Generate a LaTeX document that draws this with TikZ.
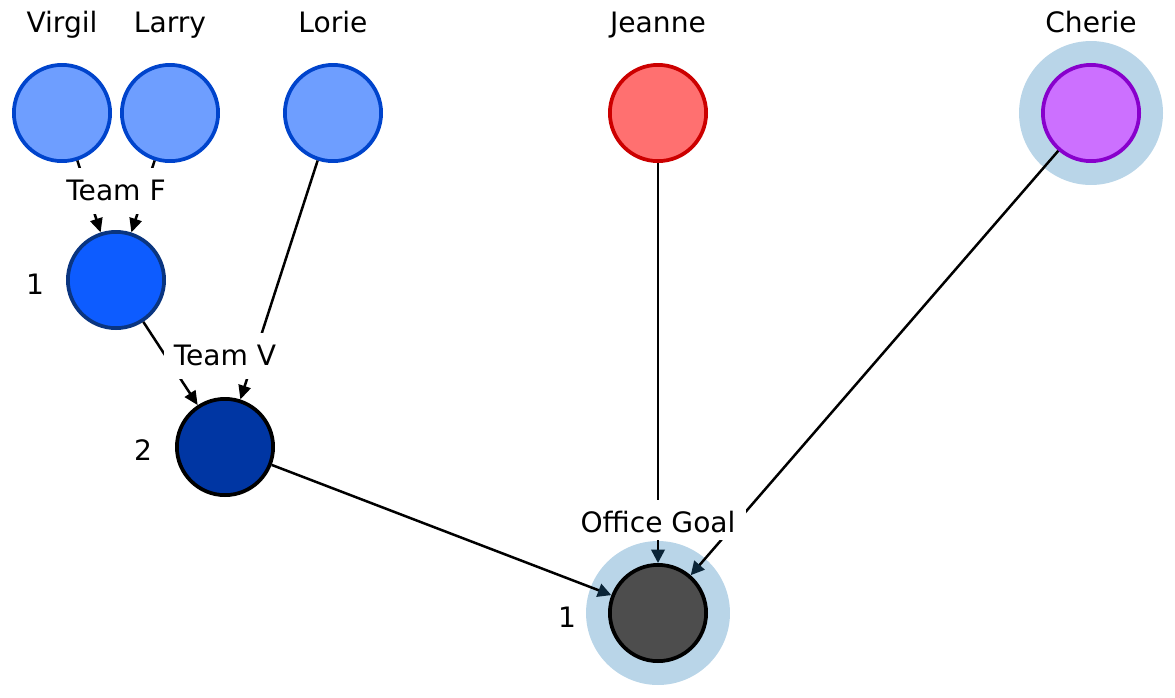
\documentclass[tikz,border=0pt]{standalone}
\usepackage{fontspec}
\setmainfont{DejaVu Sans}
\usetikzlibrary{arrows.meta}
\definecolor{leafblue}{HTML}{6E9EFF}
\definecolor{leafedge}{HTML}{0044CC}
\definecolor{teamfblue}{HTML}{0D5CFF}
\definecolor{teamfedge}{HTML}{0A3580}
\definecolor{teamvblue}{HTML}{0036A3}
\definecolor{jeannered}{HTML}{FF7070}
\definecolor{jeanneedge}{HTML}{CC0000}
\definecolor{cheriepink}{HTML}{CC70FF}
\definecolor{cherieedge}{HTML}{8800CC}
\definecolor{goalgrey}{HTML}{4D4D4D}
\definecolor{halo}{HTML}{B9D5E8}
\definecolor{tipnavy}{HTML}{0B2538}
\begin{document}
\begin{tikzpicture}
[x=0.02cm, y=-0.02cm, font=\fontsize{16}{19}\selectfont,
 membernode/.style={circle, draw=leafedge, fill=leafblue, line width=0.075cm, minimum size=1.925cm, inner sep=0pt},
 teamnode/.style={membernode, draw=black},
 halonode/.style={circle, fill=halo, minimum size=2.88cm, inner sep=0pt},
 namenode/.style={anchor=base, inner sep=0pt},
 teamlabel/.style={anchor=base, fill=white, inner xsep=0.2cm, inner ysep=0.16cm, text height=0.48cm, text depth=0.12cm},
 linkedge/.style={line width=0.05cm, -{Triangle[length=0.28cm, width=0.25cm]}},
 goaledge/.style={line width=0.05cm, -{Triangle[length=0.27cm, width=0.27cm, color=tipnavy]}}]
\useasboundingbox (0,0) rectangle (1175,697);
\node[halonode] (cheriehalo) at (1091,113) {};
\node[halonode] (goalhalo) at (658,613) {};
\node[membernode] (virgil) at (62,113) {};
\node[membernode] (larry) at (170,113) {};
\node[membernode] (lorie) at (333,113) {};
\node[membernode, draw=jeanneedge, fill=jeannered] (jeanne) at (658,113) {};
\node[membernode, draw=cherieedge, fill=cheriepink] (cherie) at (1091,113) {};
\node[membernode, draw=teamfedge, fill=teamfblue] (teamf) at (116,280) {};
\node[teamnode, fill=teamvblue] (teamv) at (225,447) {};
\node[teamnode, fill=goalgrey] (goal) at (658,613) {};
\node[namenode] (virgilname) at (62,32) {Virgil};
\node[namenode] (larryname) at (170,32) {Larry};
\node[namenode] (loriename) at (333,32) {Lorie};
\node[namenode] (jeannename) at (658,32) {Jeanne};
\node[namenode] (cheriename) at (1091,32) {Cherie};
\node[namenode] (teamfrank) at (35,294) {1};
\node[namenode] (teamvrank) at (143,460) {2};
\node[namenode] (goalrank) at (567,627) {1};
\draw[linkedge] (virgil) -- (teamf);
\draw[linkedge] (larry) -- (teamf);
\draw[linkedge] (teamf) -- (teamv);
\draw[linkedge] (lorie) -- (teamv);
\draw[goaledge] (teamv) -- (goal);
\draw[goaledge] (jeanne) -- (goal);
\draw[goaledge] (cherie) -- (goal);
\node[teamlabel] (teamftext) at (116,200) {Team F};
\node[teamlabel] (teamvtext) at (225,365) {Team V};
\node[teamlabel, text depth=0cm] (goaltext) at (658,532) {Office Goal};
\end{tikzpicture}
\end{document}
